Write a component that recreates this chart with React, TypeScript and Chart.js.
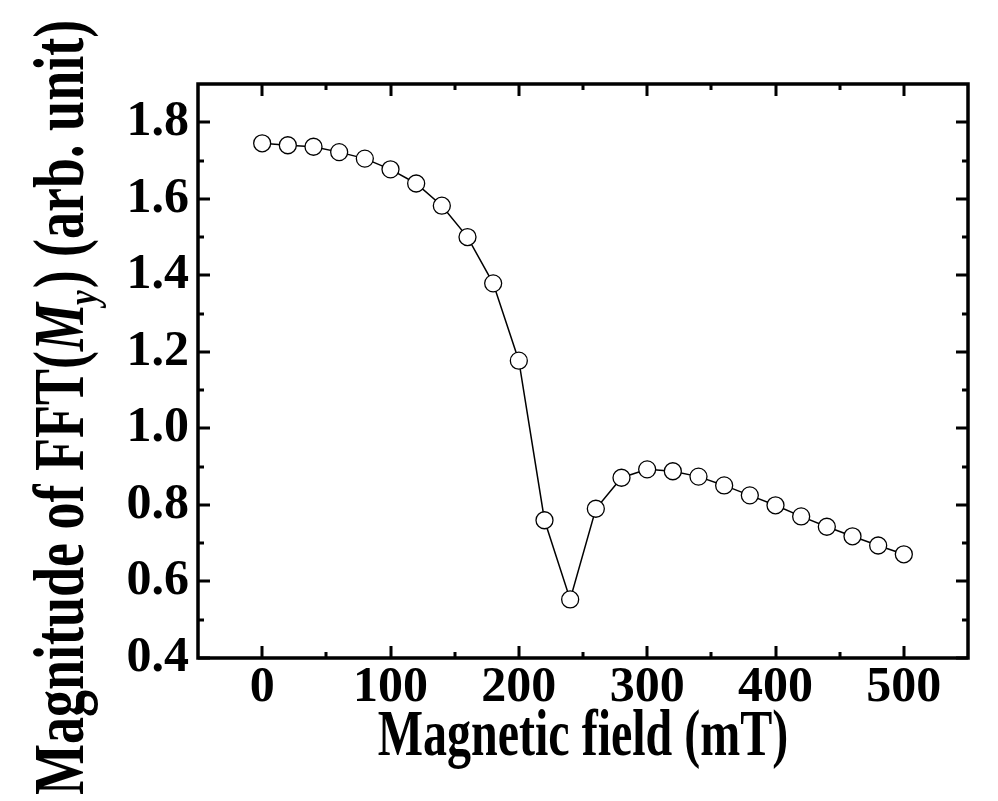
import React, { useEffect, useRef } from 'react';
import { Chart, registerables } from 'chart.js';

Chart.register(...registerables);

// ---- data ----
const fieldValues = [0, 20, 40, 60, 80, 100, 120, 140, 160, 180, 200, 220, 240, 260, 280, 300, 320, 340, 360, 380, 400, 420, 440, 460, 480, 500];
const magnitudeValues = [1.745, 1.740, 1.736, 1.722, 1.705, 1.677, 1.640, 1.582, 1.500, 1.379, 1.177, 0.760, 0.553, 0.790, 0.871, 0.893, 0.888, 0.874, 0.851, 0.825, 0.799, 0.770, 0.743, 0.718, 0.694, 0.671];

const xMajorTicks = [0, 100, 200, 300, 400, 500];
const xMinorTicks = [50, 150, 250, 350, 450];
const yMajorTicks = [0.4, 0.6, 0.8, 1.0, 1.2, 1.4, 1.6, 1.8];
const yMinorTicks = [0.5, 0.7, 0.9, 1.1, 1.3, 1.5, 1.7];

const xTitle = 'Magnetic field (mT)';
const yTitleBefore = 'Magnitude of FFT(';
const yTitleSymbol = 'M';
const yTitleSubscript = 'y';
const yTitleAfter = ') (arb. unit)';

const FONT = '"Liberation Serif", "Times New Roman", serif';

const framePlugin = {
  id: 'framePlugin',
  afterDraw(chart: any) {
    const ctx = chart.ctx as CanvasRenderingContext2D;
    const { left, right, top, bottom } = chart.chartArea;
    const xs = chart.scales.x;
    const ys = chart.scales.y;
    ctx.save();
    ctx.strokeStyle = '#000';
    ctx.lineCap = 'butt';
    // ticks (inside, all four sides)
    ctx.lineWidth = 3;
    const major = 12;
    const minor = 6;
    const drawX = (vals: number[], len: number) => {
      vals.forEach((v) => {
        const px = Math.round(xs.getPixelForValue(v));
        ctx.beginPath();
        ctx.moveTo(px, bottom);
        ctx.lineTo(px, bottom - len);
        ctx.moveTo(px, top);
        ctx.lineTo(px, top + len);
        ctx.stroke();
      });
    };
    const drawY = (vals: number[], len: number) => {
      vals.forEach((v) => {
        const py = Math.round(ys.getPixelForValue(v));
        ctx.beginPath();
        ctx.moveTo(left, py);
        ctx.lineTo(left + len, py);
        ctx.moveTo(right, py);
        ctx.lineTo(right - len, py);
        ctx.stroke();
      });
    };
    drawX(xMajorTicks, major);
    drawX(xMinorTicks, minor);
    drawY(yMajorTicks, major);
    drawY(yMinorTicks, minor);
    // frame
    ctx.lineWidth = 3.5;
    ctx.strokeRect(left, top, right - left, bottom - top);

    // x title
    ctx.fillStyle = '#000';
    ctx.save();
    ctx.translate((left + right) / 2, 755);
    ctx.scale(1, 1.35);
    ctx.font = `bold 48px ${FONT}`;
    ctx.textAlign = 'center';
    ctx.textBaseline = 'alphabetic';
    ctx.fillText(xTitle, 0, 0);
    ctx.restore();

    // y title (rotated, with italic subscript symbol)
    ctx.save();
    ctx.translate(83, 795);
    ctx.rotate(-Math.PI / 2);
    ctx.scale(1, 1.33);
    ctx.textAlign = 'left';
    ctx.textBaseline = 'alphabetic';
    let x = 0;
    const size = 54;
    ctx.font = `bold ${size}px ${FONT}`;
    ctx.fillText(yTitleBefore, x, 0);
    x += ctx.measureText(yTitleBefore).width;
    ctx.font = `italic bold ${size}px ${FONT}`;
    ctx.fillText(yTitleSymbol, x, 0);
    x += ctx.measureText(yTitleSymbol).width;
    ctx.font = `italic bold ${Math.round(size * 0.62)}px ${FONT}`;
    ctx.fillText(yTitleSubscript, x - 2, size * 0.2);
    x += ctx.measureText(yTitleSubscript).width;
    ctx.font = `bold ${size}px ${FONT}`;
    ctx.fillText(yTitleAfter, x, 0);
    ctx.restore();

    ctx.restore();
  },
};

export default function App() {
  const canvasRef = useRef<HTMLCanvasElement | null>(null);

  useEffect(() => {
    document.body.style.margin = '0';
    const canvas = canvasRef.current;
    if (!canvas) return;
    const points = fieldValues.map((f, i) => ({ x: f, y: magnitudeValues[i] }));
    const chart = new Chart(canvas, {
      type: 'line',
      data: {
        datasets: [
          {
            data: points,
            borderColor: '#000',
            borderWidth: 1.5,
            backgroundColor: '#fff',
            pointBackgroundColor: '#fff',
            pointBorderColor: '#000',
            pointBorderWidth: 1.3,
            pointRadius: 8.5,
            pointHoverRadius: 8.5,
            tension: 0,
            fill: false,
          },
        ],
      },
      options: {
        responsive: false,
        animation: false,
        events: [],
        layout: { padding: { left: 0, top: 84, right: 30, bottom: 0 } },
        plugins: {
          legend: { display: false },
          tooltip: { enabled: false },
          title: { display: false },
        },
        scales: {
          x: {
            type: 'linear',
            min: -50,
            max: 550,
            grid: { display: false, drawTicks: false },
            border: { display: false },
            afterFit: (scale: any) => {
              scale.height = 143;
            },
            afterBuildTicks: (scale: any) => {
              scale.ticks = xMajorTicks.map((v) => ({ value: v }));
            },
            ticks: {
              padding: 0,
              color: '#000',
              maxRotation: 0,
              autoSkip: false,
              font: { family: FONT, size: 50, weight: 'bold' },
              callback: (v: any) => String(v),
            },
          },
          y: {
            type: 'linear',
            min: 0.4,
            max: 1.9,
            grid: { display: false, drawTicks: false },
            border: { display: false },
            afterFit: (scale: any) => {
              scale.width = 198;
            },
            afterBuildTicks: (scale: any) => {
              scale.ticks = yMajorTicks.map((v) => ({ value: v }));
            },
            ticks: {
              padding: 9,
              color: '#000',
              autoSkip: false,
              font: { family: FONT, size: 50, weight: 'bold' },
              callback: (v: any) => Number(v).toFixed(1),
            },
          },
        },
      },
      plugins: [framePlugin],
    });
    return () => chart.destroy();
  }, []);

  return (
    <div style={{ width: 998, height: 801, background: '#fff' }}>
      <canvas ref={canvasRef} width={998} height={801} style={{ display: 'block' }} />
    </div>
  );
}
